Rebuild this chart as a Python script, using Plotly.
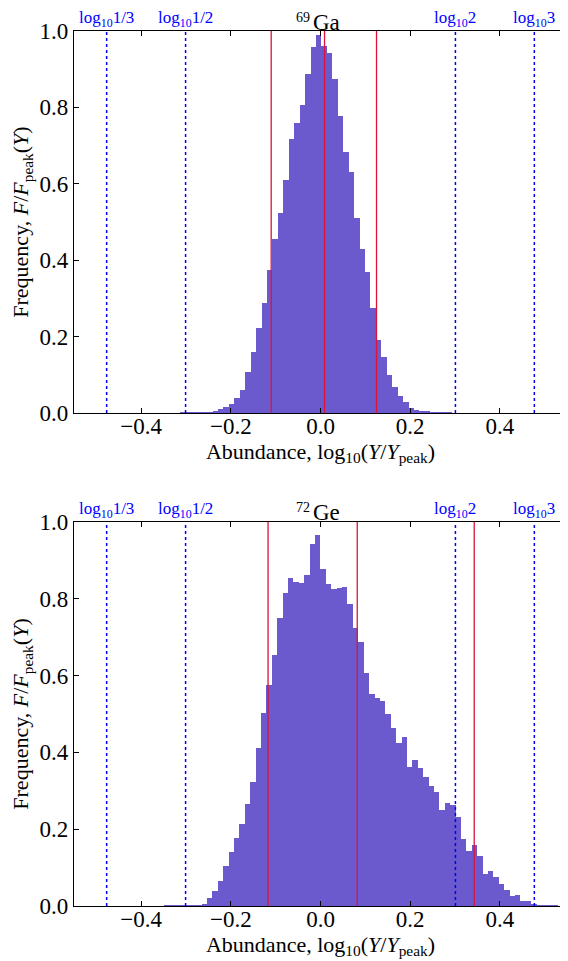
import numpy as np
import plotly.graph_objects as go

### bin layout (log10 abundance)
ga_first_centre = -0.3078
ga_bin_width = 0.01215
ge_first_centre = -0.3438
ge_bin_width = 0.01206

### 69Ga histogram, F/F_peak per bin
ga_freq = [0.0005, 0.001, 0.002, 0.002, 0.003, 0.004, 0.006, 0.011, 0.015, 0.023,
           0.040, 0.060, 0.108, 0.160, 0.223, 0.289, 0.374, 0.455, 0.523, 0.609,
           0.717, 0.758, 0.805, 0.887, 0.957, 0.990, 0.962, 0.943, 0.875, 0.778,
           0.684, 0.630, 0.510, 0.430, 0.369, 0.275, 0.192, 0.146, 0.100, 0.067,
           0.044, 0.028, 0.013, 0.007, 0.006, 0.005, 0.004, 0.003, 0.002, 0.001]

### 72Ge histogram
ge_freq = [0.0005, 0.001, 0.001, 0.0015, 0.002, 0.002, 0.003, 0.005,
           0.020, 0.040, 0.066, 0.103, 0.140, 0.177, 0.214, 0.267, 0.323, 0.411,
           0.503, 0.576, 0.654, 0.750, 0.815, 0.854, 0.843, 0.840, 0.862, 0.943,
           0.967, 0.878, 0.838, 0.825, 0.829, 0.830, 0.786, 0.723, 0.688, 0.607,
           0.552, 0.542, 0.533, 0.499, 0.464, 0.425, 0.441, 0.361, 0.379, 0.360,
           0.336, 0.313, 0.296, 0.249, 0.268, 0.263, 0.232, 0.175, 0.144, 0.159,
           0.131, 0.083, 0.092, 0.076, 0.057, 0.041, 0.026, 0.028, 0.014, 0.013,
           0.005, 0.004, 0.003, 0.002, 0.001]

### red lines (lower / median / upper) per isotope
ga_lines = [-0.110, 0.009, 0.125]
ge_lines = [-0.117, 0.082, 0.343]

### reference factors
ref_factors = [1/3, 1/2, 2, 3]
ref_labels = ["log<sub>10</sub>1/3", "log<sub>10</sub>1/2", "log<sub>10</sub>2", "log<sub>10</sub>3"]

mass_numbers = ["69", "72"]
elements = ["Ga", "Ge"]

FONT = "Liberation Serif"
BAR = "#6a5acd"

fig = go.Figure()

panels = [
    (ga_freq, ga_first_centre, ga_bin_width, ga_lines, "x", "y", [0.5634, 1.0]),
    (ge_freq, ge_first_centre, ge_bin_width, ge_lines, "x2", "y2", [0.0, 0.4389]),
]

for i, (freq, c0, w, lines, xa, ya, dom) in enumerate(panels):
    fig.add_trace(go.Bar(y=freq, x0=c0, dx=w, width=w, marker_color=BAR,
                         marker_line_width=0, xaxis=xa, yaxis=ya, showlegend=False))
    for v in lines:
        fig.add_shape(type="line", x0=v, x1=v, y0=0, y1=1, xref=xa, yref=ya,
                      line=dict(color="#dc143c", width=1.3))
    for f, lab in zip(ref_factors, ref_labels):
        v = np.log10(f)
        fig.add_shape(type="line", x0=v, x1=v, y0=0, y1=1, xref=xa, yref=ya,
                      line=dict(color="#0000ff", width=1.5, dash="dot"))
        fig.add_annotation(x=v, xref=xa, y=dom[1], yref="paper", yshift=12,
                           text=lab, showarrow=False, yanchor="middle",
                           font=dict(family=FONT, size=17, color="#0000ff"))
    # isotope title: mass number raised by hand so it stays inside the page
    fig.add_annotation(x=-0.02, xref=xa, y=dom[1], yref="paper", yshift=14, xanchor="right",
                       text=mass_numbers[i], showarrow=False, yanchor="middle",
                       font=dict(family=FONT, size=14, color="black"))
    fig.add_annotation(x=-0.022, xref=xa, y=dom[1], yref="paper", yshift=9, xanchor="left",
                       text=elements[i], showarrow=False, yanchor="middle",
                       font=dict(family=FONT, size=23, color="black"))

    axis_common = dict(showline=True, linecolor="black", linewidth=1.3, mirror="allticks",
                       ticks="inside", ticklen=5, tickcolor="black", showgrid=False,
                       zeroline=False, automargin=False,
                       tickfont=dict(family=FONT, size=23, color="black"))
    xname = "xaxis" if xa == "x" else "xaxis2"
    yname = "yaxis" if ya == "y" else "yaxis2"
    fig.layout[xname] = dict(range=[-0.55, 0.55], tickvals=[-0.4, -0.2, 0.0, 0.2, 0.4],
                             tickformat=".1f", anchor=ya, ticklabelstandoff=-8,
                             title=dict(text="Abundance, log<sub>10</sub>(<i>Y</i>/<i>Y</i><sub>peak</sub>)",
                                        font=dict(family=FONT, size=22, color="black"), standoff=3),
                             **axis_common)
    fig.layout[yname] = dict(range=[0, 1.0], tickvals=[0, 0.2, 0.4, 0.6, 0.8, 1.0],
                             tickformat=".1f", domain=dom, anchor=xa,
                             title=dict(text="Frequency, <i>F</i>/<i>F</i><sub>peak</sub>(<i>Y</i>)",
                                        font=dict(family=FONT, size=22, color="black"), standoff=6),
                             **axis_common)

# page body adds an 8px offset, so the figure is 8px smaller on each side that counts
fig.update_layout(width=560, height=953, bargap=0, plot_bgcolor="white", paper_bgcolor="white",
                  margin=dict(l=66, r=1, t=23, b=55))

fig.write_html("out.html")
